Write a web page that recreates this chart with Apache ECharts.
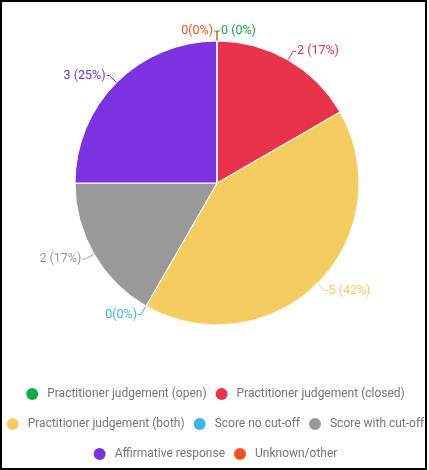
<!DOCTYPE html>
<html><head><meta charset="utf-8">
<script src="https://cdn.jsdelivr.net/npm/echarts@6/dist/echarts.min.js"></script>
<style>
html,body{margin:0;padding:0;background:#fff;}
#c{position:absolute;left:0;top:0;width:429px;height:470px;}
#frame{position:absolute;left:0;top:0;width:427px;height:470px;box-sizing:border-box;border:2px solid #000;pointer-events:none;}
</style></head>
<body>
<div id="c"></div><div id="frame"></div>
<script>
const categories = ["Practitioner judgement (open)","Practitioner judgement (closed)","Practitioner judgement (both)","Score no cut-off","Score with cut-off","Affirmative response","Unknown/other"];
const values = [0, 2, 5, 0, 2, 3, 0];
const colors = ["#0fa84b","#e8334b","#f5cc5f","#3bb4e8","#999999","#7c32e0","#f4511e"];
const labelSpaced = [true, true, true, false, true, true, false];
const legendRows = [[0,1],[2,3,4],[5,6]];

const total = values.reduce((a,b)=>a+b,0);
const chart = echarts.init(document.getElementById('c'));
const data = categories.map((n,i)=>({
  name:n, value:values[i],
  itemStyle:{color:colors[i]},
  label:{color:colors[i]},
  labelLine:{lineStyle:{color:colors[i]}}
}));
// zero slices sharing the start/end angle: first one labelled on the right, last one on the left
const firstIdx = 0, lastIdx = values.length - 1;
function labelLayout(p){
  const pts = p.labelLinePoints;
  if (!pts) return {};
  const wantRight = p.dataIndex === firstIdx ? true : (p.dataIndex === lastIdx ? false : null);
  if (wantRight === null) return {};
  const onRight = pts[2][0] >= pts[0][0];
  if (onRight === wantRight) return {};
  const cx = pts[0][0];
  const np = pts.map(q=>[2*cx - q[0], q[1]]);
  const r = p.labelRect;
  return {
    x: np[2][0] + (wantRight ? 1 : -1),
    y: r.y + r.height/2,
    align: wantRight ? 'left' : 'right',
    verticalAlign: 'middle',
    labelLinePoints: np
  };
}
const rowTops = [386, 416, 446];
chart.setOption({
  animation:false,
  color: colors,
  legend: legendRows.map((row,r)=>({
    data: row.map(i=>({name:categories[i], icon:'circle'})),
    left:'center', top: rowTops[r], orient:'horizontal', padding:0,
    itemWidth:20, itemHeight:14, itemGap:7,
    textStyle:{color:'#757575', fontSize:12, fontFamily:'Roboto'},
    selectedMode:false
  })),
  series:[{
    type:'pie',
    center:[217,183], radius:[0,142],
    startAngle:90, clockwise:true,
    avoidLabelOverlap:false,
    minShowLabelAngle:0,
    label:{show:true, position:'outside', fontSize:12.5, fontFamily:'Roboto', distanceToLabelLine:1,
      formatter:p=>{const i=p.dataIndex; const pct=Math.round(values[i]/total*100); return values[i]+(labelSpaced[i]?' ':'')+'('+pct+'%)';}},
    labelLine:{show:true, length:10, length2:3, lineStyle:{width:1}},
    labelLayout: labelLayout,
    itemStyle:{borderColor:'#fff', borderWidth:1},
    emphasis:{disabled:true},
    data: data
  }]
});
</script>
</body></html>
